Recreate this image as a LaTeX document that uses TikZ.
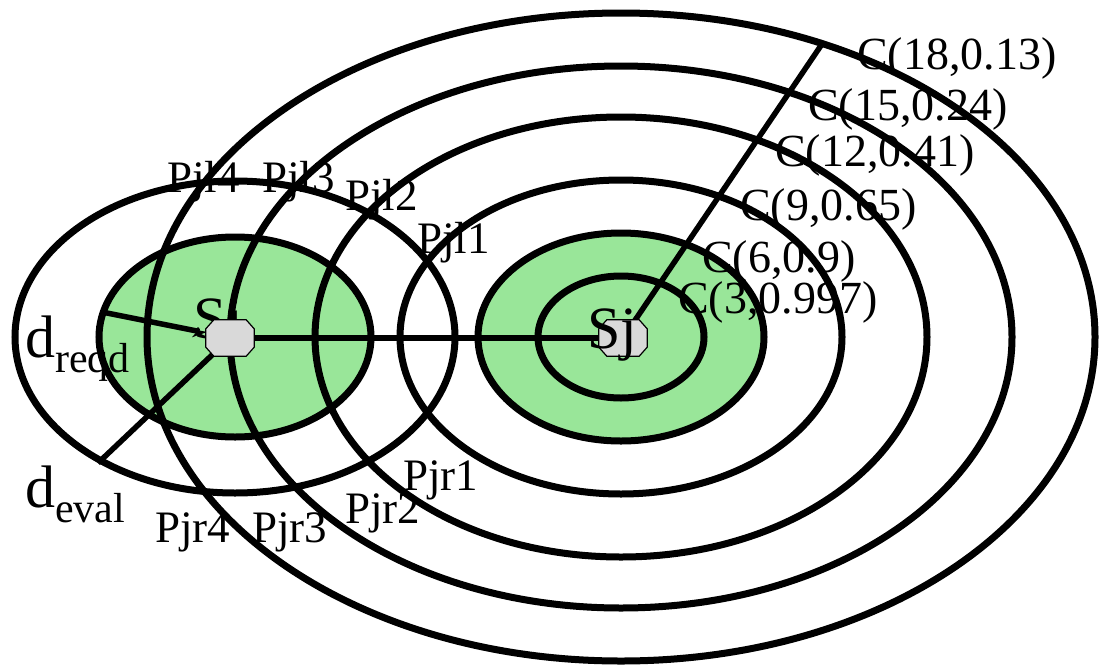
\documentclass[tikz,border=0pt]{standalone}
\usepackage{fontspec}
\setmainfont{Liberation Serif}
\usetikzlibrary{arrows.meta, calc}
\definecolor{zonegreen}{RGB}{153, 230, 153}
\definecolor{nodegray}{RGB}{217, 217, 217}
\tikzset{
  ring/.style={draw=black, line width=7pt},
  link/.style={draw=black, line width=5.5pt},
  sensor/.style={rectangle, minimum width=48pt, minimum height=36pt, inner sep=0pt},
  octo/.style={draw=black, line width=1.2pt, fill=nodegray},
  clbl/.style={anchor=base west, inner sep=0pt, font=\fontsize{46}{50}\selectfont},
  plbl/.style={anchor=base west, inner sep=0pt, font=\fontsize{45}{50}\selectfont},
  slbl/.style={anchor=base west, inner sep=0pt, font=\fontsize{60}{66}\selectfont},
  dlbl/.style={anchor=base west, inner sep=0pt, font=\fontsize{60}{66}\selectfont},
}
\newcommand{\lowsub}[1]{\raisebox{-0.25em}{\fontsize{42}{46}\selectfont #1}}
% chamfered box over a sensor node
\newcommand{\octo}[1]{%
  \path[octo] ($(#1.north west)+(8,0)$) -- ($(#1.north east)+(-8,0)$)
    -- ($(#1.north east)+(0,9)$) -- ($(#1.south east)+(0,-9)$)
    -- ($(#1.south east)+(-8,0)$) -- ($(#1.south west)+(8,0)$)
    -- ($(#1.south west)+(0,-9)$) -- ($(#1.north west)+(0,9)$) -- cycle;}

\begin{document}
\begin{tikzpicture}[x=1pt, y=-1pt]
  \useasboundingbox (0,0) rectangle (1100,664);
  \coordinate (ci) at (235,337);
  \coordinate (cj) at (621,337);
  % coverage zones
  \fill[zonegreen] (ci) ellipse [x radius=136pt, y radius=100pt];
  \fill[zonegreen] (cj) ellipse [x radius=143pt, y radius=104pt];
  \draw[ring] (ci) ellipse [x radius=136pt, y radius=100pt];
  \draw[ring] (ci) ellipse [x radius=220pt, y radius=156pt];
  \draw[ring] (cj) ellipse [x radius=83pt, y radius=61pt];
  \draw[ring] (cj) ellipse [x radius=143pt, y radius=104pt];
  \draw[ring] (cj) ellipse [x radius=221pt, y radius=157pt];
  \draw[ring] (cj) ellipse [x radius=306pt, y radius=220pt];
  \draw[ring] (cj) ellipse [x radius=391pt, y radius=271pt];
  \draw[ring] (cj) ellipse [x radius=474pt, y radius=324pt];
  % sensors
  \node[slbl] (silbl) at (193,338) {Si};
  \node[sensor] (si) at (230,338) {};
  \node[sensor] (sj) at (623,338) {};
  \coordinate (reqdend) at (102,312);
  \coordinate (reqdtip) at (207,333);
  \coordinate (evalend) at (98,463);
  \coordinate (farend) at (822,44);
  \draw[link] (si.center) -- (sj.center);
  \draw[link] (sj.center) -- (farend);
  \draw[link] (si.center) -- (evalend);
  \draw[link, -{Stealth[harpoon, swap, length=12pt, width=14pt]}] (reqdend) -- (reqdtip);
  \octo{si}
  \octo{sj}
  \node[slbl] (sjlbl) at (587,348) {Sj};
  % labels
  \node[clbl] (c18) at (857,69) {C(18,0.13)};
  \node[clbl] (c15) at (808,120) {C(15,0.24)};
  \node[clbl] (c12) at (775,166) {C(12,0.41)};
  \node[clbl] (c9) at (740,220) {C(9,0.65)};
  \node[clbl] (c6) at (702,272) {C(6,0.9)};
  \node[clbl] (c3) at (678,313) {C(3,0.997)};
  \node[plbl] (pjl4) at (167,192) {Pjl4};
  \node[plbl] (pjl3) at (262,192) {Pjl3};
  \node[plbl] (pjl2) at (345,210) {Pjl2};
  \node[plbl] (pjl1) at (417,253) {Pjl1};
  \node[plbl] (pjr1) at (403,490) {Pjr1};
  \node[plbl] (pjr2) at (345,523) {Pjr2};
  \node[plbl] (pjr3) at (252,542) {Pjr3};
  \node[plbl] (pjr4) at (155,542) {Pjr4};
  \node[dlbl] (dreqd) at (25,357) {d\lowsub{reqd}};
  \node[dlbl] (deval) at (25,507) {d\lowsub{eval}};
\end{tikzpicture}
\end{document}
